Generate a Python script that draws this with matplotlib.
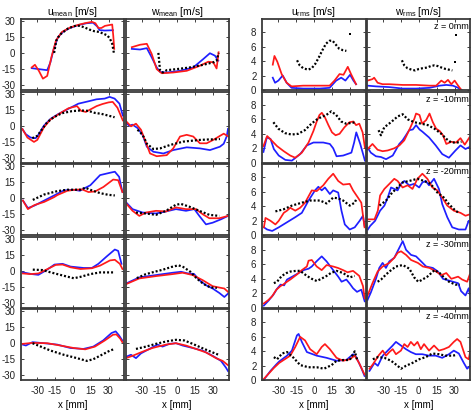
import numpy as np
import matplotlib
matplotlib.use('Agg')
import matplotlib.pyplot as plt

# Perfiles de velocidad: media y rms, u y w, a cinco alturas z
z_labels = ['z = 0mm', 'z = -10mm', 'z = -20mm', 'z = -30mm', 'z = -40mm']
col_titles = ['u$_{mean}$ [m/s]', 'w$_{mean}$ [m/s]', 'u$_{rms}$ [m/s]', 'w$_{rms}$ [m/s]']
mean_ticks = [-30, -15, 0, 15, 30]
rms_ticks = [0, 2, 4, 6, 8]
x_ticks = [-30, -15, 0, 15, 30]

# ---- u_mean ----
umean_z0_blue = [(-34.5, -14.4), (-28.5, -15.3), (-21.5, -16.3), (-18.8, -8.9), (-16, 3.8), (-12.4, 15), (-7.7, 20.4),
                 (-2.2, 23.6), (4.7, 26.3), (11.6, 28), (17, 28.5), (20.5, 25), (22.5, 21.5), (26.8, 21.1), (33.7, 21.4)]
umean_z0_red = [(-34.5, -13.7), (-31.8, -11.2), (-28.5, -16.9), (-25.1, -24.3), (-21.5, -21.7), (-18, -4.2), (-14.1, 11.8),
                (-9.1, 19.8), (-2.2, 24), (4.7, 26.5), (10, 28), (16, 29.3), (19, 28), (21.5, 23.5), (24, 23.5), (27, 25.5),
                (33.1, 26.8), (34, 16), (34.8, 3.8)]
umean_z0_black = [(-15.7, 0), (-13.8, 11.8), (-10.8, 17.3), (-7, 20.5), (-4, 23), (0, 24.8), (3, 25.8), (6, 25.5), (10, 24),
                  (14, 22), (18, 20.5), (22, 19.8), (26, 18), (29, 16.5), (31.2, 13.4), (33.1, 8.6), (34.5, 0)]

umean_z10_blue = [(-42.3, -3.2), (-39.5, -8), (-35.4, -11.2), (-31.2, -11.8), (-28.5, -8), (-24.3, 0), (-18.8, 6.4),
                  (-11.9, 11.2), (-3.6, 16), (4.7, 20.8), (13, 23), (19.9, 24.9), (26.8, 25.6), (30.9, 27.2), (35.1, 25.6),
                  (39.2, 20.8), (42, 9.6)]
umean_z10_red = [(-42.3, -3.2), (-38.1, -11.2), (-32.6, -15.3), (-29.8, -13.4), (-24.3, -1.6), (-18.8, 5.8), (-11.9, 10.9),
                 (-3.6, 16.5), (0, 17.5), (3.5, 18.5), (7, 14), (11, 13), (15, 15.5), (20, 18.5), (25, 20.5), (30, 22),
                 (33.5, 22.5), (37.5, 17), (42, 5)]
umean_z10_black = [(-34, -11.8), (-29.8, -9.6), (-25.7, -3.2), (-21.5, 3.2), (-16, 8), (-9.1, 11.8), (-0.8, 13.7),
                   (6.1, 14.4), (13, 14), (18.5, 12.1), (24, 11.2), (29.6, 9.6), (35.1, 8)]

umean_z20_blue = [(-41.9, -2.2), (-37.7, -9.3), (-32.3, -7), (-24, -2.2), (-15.7, 2.6), (-7.5, 7.4), (0.8, 8), (6, 7),
                  (9.1, 9), (14.7, 12.2), (22.9, 21.8), (31.2, 24), (35.3, 25), (38.9, 20.2), (41.7, 5.8)]
umean_z20_red = [(-41.9, -2.2), (-37.7, -10.3), (-32.3, -6.5), (-24, -3.5), (-15.7, 1), (-12.9, 3), (-4.6, 7), (2, 8),
                 (7.8, 8.3), (13.2, 5.8), (18.8, 6.4), (25.7, 10.6), (33.9, 17.6), (38.1, 17), (41.7, 5.8)]
umean_z20_black = [(-33.6, -1.6), (-24, 3.5), (-12.9, 6.7), (-4.6, 8), (6.4, 8), (10.5, 9.9), (16, 7.4), (22.9, 4.8),
                   (29.8, 3.2), (35.3, 2.6)]

umean_z30_blue = [(-41.9, -1.6), (-34.3, -3.2), (-28.9, -3.9), (-22.1, 0.6), (-15.4, 5.8), (-8.6, 6.5), (-1.9, 3.9),
                  (9.1, 2.6), (16, 2.6), (21.5, 6.5), (28.5, 13.5), (35.3, 20), (38.1, 18.7), (40.9, 6.5)]
umean_z30_red = [(-41.9, -2.6), (-35.8, -3.2), (-28.9, -2.6), (-21.2, 1.6), (-14.3, 5.5), (-8.6, 5.8), (-1.9, 3.2),
                 (6.4, 1.6), (16, 2.3), (22.9, 4.8), (31.2, 9.7), (35.3, 10.3), (39.5, 6.5), (41.7, 1.6)]
umean_z30_black = [(-33.6, 1), (-25.3, 0.6), (-18.5, -1.6), (-7.5, -4.8), (0.8, -7.1), (6.4, -5.8), (14.7, -3.2),
                   (22.9, -1.6), (35.3, -1.6)]

umean_z40_blue = [(-42.1, -1.3), (-39.4, -2.2), (-33.8, 1), (-24.2, 0), (-13.1, -1.3), (-2.1, -4.5), (8.9, -5.4),
                  (17.2, -3.2), (25.5, 2.6), (32.5, 9.6), (36, 11.2), (38.8, 7.4), (41.6, 2.6)]
umean_z40_red = [(-42.1, -0.6), (-33.8, 0.3), (-21.4, 0), (-10.4, -2.2), (0.7, -4.5), (10.4, -5.8), (18.6, -3.2),
                 (26.9, 2.6), (33.8, 8), (36.6, 8.3), (39.9, 4.2), (41.6, 1)]
umean_z40_black = [(-33.8, 0), (-26.9, -3.2), (-18.6, -7), (-7.6, -10.9), (3.5, -14.1), (11.8, -16.7), (17.2, -15.1),
                   (25.5, -10.3), (31.1, -7), (35.2, -5.4)]

# ---- w_mean ----
wmean_z0_blue = [(-38.2, 3.8), (-31.3, 3.2), (-25.6, 4.5), (-21.5, -4.2), (-17.3, -13.7), (-14.5, -17.9), (-8.9, -18.5),
                 (2.3, -16.9), (13.4, -13.7), (21.8, -5.8), (27.4, -0.3), (31.6, -2.6), (34.4, -7.3)]
wmean_z0_red = [(-38.2, 5.4), (-31.3, 7.7), (-25.6, 8.6), (-21.5, -1), (-17.3, -15.3), (-13.1, -19.2), (-3.4, -18.5),
                (7.9, -16.9), (19, -12.1), (26, -8.3), (30.2, -8.9), (33, -14.7), (34.7, 0.6)]
wmean_z0_black = [(-15.9, 0), (-14.5, -16.3), (-12.2, -18.5), (-8.9, -16.3), (-0.5, -15.3), (10.6, -13.7), (21.8, -11.2),
                  (30.2, -8.9), (33, -7.3), (34.7, 0)]

wmean_z10_blue = [(-43, 2.6), (-40.3, 0), (-37.6, 1), (-33.4, -2.2), (-29, -9), (-25.6, -19.8), (-20.1, -24.6),
                  (-11.7, -26.2), (-3.4, -23), (7.9, -20.4), (19, -21.4), (27.4, -23), (35.8, -19.8), (39, -17),
                  (41.5, -10), (42.6, -3)]
wmean_z10_red = [(-43, 4.2), (-38.9, -0.6), (-34.7, 1.9), (-30.5, -3.8), (-27, -14), (-22.9, -26.2), (-17.3, -28.8),
                 (-8.9, -27.8), (-3.4, -21.4), (2.3, -10.2), (7.9, -8.6), (13.4, -10.2), (19, -16.6), (24.6, -16.6),
                 (30.2, -13.4), (35.8, -9.6), (39, -7.5), (42.6, -10)]
wmean_z10_black = [(-33.4, -3.8), (-30.5, -7), (-28, -11), (-25.6, -17), (-20.1, -22), (-14.5, -21.4), (-6.1, -18.2),
                   (5, -15), (19, -13.4), (26, -13), (33, -12.8), (35.8, -12.5)]

wmean_z20_blue = [(-43.1, -3.8), (-37.6, -10.3), (-29.2, -13.5), (-17.9, -14.4), (-9.5, -12.5), (-1.1, -10.3),
                  (7.3, -11.9), (14.3, -10.3), (18.5, -16.7), (24.1, -24.7), (29.7, -23.1), (36.7, -19.9), (42.6, -16.7)]
wmean_z20_red = [(-43.1, -4.8), (-37.6, -11.9), (-31.9, -16.7), (-26.3, -13.5), (-17.9, -11.9), (-9.5, -12.5),
                 (-1.1, -8.7), (7.3, -10.3), (15.7, -10.3), (21.3, -15.1), (26.9, -18.9), (35.3, -18.9), (42.6, -16.7)]
wmean_z20_black = [(-34.7, -13.5), (-26.3, -14.4), (-17.9, -15.7), (-9.5, -11.9), (-1.1, -6.1), (3.1, -5.4), (10.1, -8),
                   (18.5, -11.9), (26.9, -15.7), (35.3, -16.7)]

wmean_z30_blue = [(-43.1, -12.1), (-31.9, -6.3), (-17.9, -4.1), (-3.9, -1.9), (3.1, -1), (8.7, -2.5), (14, -3),
                  (18.5, -8.9), (24.1, -13.7), (29.7, -16.8), (35.3, -21), (39.5, -24.8), (42.6, -21.6)]
wmean_z30_red = [(-43.1, -12.7), (-31.9, -7.3), (-17.9, -5.1), (-3.9, -3.2), (4.5, -1.9), (12.9, -4.1), (21.3, -8.9),
                 (29.7, -14.6), (35.3, -15.9), (39.5, -16.8), (42.6, -20)]
wmean_z30_black = [(-34, -7), (-27, -3.5), (-20, -1.3), (-12, 1), (-5, 3.5), (1, 5.1), (5, 3.5), (11, -1), (16.5, -7.5),
                   (22, -12.5), (27.7, -15.7), (33.2, -16.3)]

wmean_z40_blue = [(-43.1, -12.8), (-38.9, -10.9), (-34.7, -14.1), (-30.5, -9.6), (-23.5, -5.4), (-16.6, -1.3),
                  (-12.4, -3.2), (-6.7, -0.6), (-1.1, 0), (4.5, -2.2), (12.9, -4.5), (21.3, -7), (29.7, -11.9),
                  (36.7, -16.7), (40.9, -23.1), (42.6, -26.3)]
wmean_z40_red = [(-43.1, -14.1), (-37.6, -11.9), (-29.2, -8), (-20.8, -4.5), (-9.5, -1.3), (-1.1, 0), (7.3, -2.2),
                 (15.7, -5.4), (24.1, -8.7), (32.5, -14.1), (38.1, -16.7), (42.6, -20.8)]
wmean_z40_black = [(-34.7, -5.4), (-26.3, -3.2), (-17.9, -0.6), (-9.5, 1.6), (-1.1, 3.2), (5.9, 2.6), (12.9, -0.6),
                   (21.3, -4.8), (29.7, -8.7), (35.3, -11.2)]

# ---- u_rms ----
urms_z0_blue = [(-34.5, 1.7), (-32.6, 1), (-29.8, 1.3), (-26.2, 2), (-22.9, 1), (-18.8, 0.3), (-9.1, 0.2), (4.7, 0.2),
                (13, 0.3), (18.5, 1.3), (22.7, 1.7), (26.2, 1.3), (30.1, 2.1), (32.9, 1.3), (35.1, 0.8)]
urms_z0_red = [(-34.5, 3.5), (-33.1, 4.7), (-30.7, 3.9), (-27.1, 2.2), (-22.9, 1), (-18.8, 0.5), (-9.1, 0.6), (1.9, 0.6),
               (13, 0.6), (17.1, 1.3), (21.3, 2.2), (24.6, 2.1), (28.2, 3.2), (30.9, 2.2), (35.1, 0.8)]
urms_z0_black = [(-14.2, 4.1), (-12, 3.4), (-9, 3), (-5, 2.8), (-2, 3), (1, 3.6), (4, 4.5), (7, 5.5), (10, 6.4), (13, 6.8),
                 (15.5, 6.8), (18.5, 6.2), (21, 5.7), (24, 5.5), (27, 5.4)]
urms_z0_extra = [(29.8, 7.7)]

urms_z10_blue = [(-42.3, 1.5), (-39.5, 3.5), (-36.4, 3.3), (-33.6, 1.9), (-29.5, 1), (-24, 0.4), (-18.5, 0.3),
                 (-11.6, 1.2), (-6, 2.4), (-0.5, 2.8), (7.7, 2.8), (13.2, 2.6), (16, 2), (18.8, 0.9), (24.3, 1), (31.2, 1.4),
                 (33.5, 2.8), (35.3, 4.2), (38.6, 2.6), (41, 1.2), (42.5, 0.3)]
urms_z10_red = [(-42.3, 2.3), (-39.2, 3.7), (-35, 3), (-30.9, 2.3), (-25.3, 1.6), (-19.9, 1), (-15.7, 0.7), (-10.2, 1.4),
                (-4.6, 2.8), (-0.5, 4.4), (2, 5.6), (4.5, 6.6), (6.5, 6.9), (9, 6.3), (12, 5.2), (15, 4.2), (18, 3.8),
                (21.3, 4), (25.4, 4.9), (29.6, 5.6), (32.9, 5.7), (35.1, 5.2), (37.8, 5.4), (40.6, 4.2), (42.5, 2.1)]
urms_z10_black = [(-34, 5.6), (-29.8, 4.7), (-24.3, 4.1), (-18.8, 3.9), (-13.3, 4), (-7.7, 4.5), (-2.2, 5.4), (3.3, 6.1),
                  (10.2, 6.6), (14.4, 7.1), (18.5, 6.6), (22.7, 5.7), (26.8, 5.4), (30.9, 5.5), (35.1, 5.6)]

urms_z20_blue = [(-41.9, 1.1), (-39.2, 0.8), (-35, 0.6), (-29.5, 1.1), (-22.6, 1.8), (-15.7, 2.5), (-10.2, 3.1),
                 (-4.6, 4.8), (0.8, 6.2), (3.6, 6.7), (6.4, 6.2), (9.1, 6.6), (13.2, 5.7), (16, 6.2), (20.2, 5.9),
                 (22.9, 3.4), (25.7, 1.5), (29.8, 0.8), (34, 1.1), (38.1, 2), (40.9, 2.7), (42.2, 1.3)]
urms_z20_red = [(-41.9, 1.1), (-40.6, 2.4), (-36.4, 2), (-32.3, 1.5), (-29.5, 2), (-25.3, 3.1), (-22.6, 3.4), (-19.9, 3.8),
                (-15.7, 3.4), (-11.6, 3.8), (-7.5, 4.5), (-1.9, 6.2), (2.2, 6.1), (7.7, 6.9), (11.9, 7.8), (16, 8.5),
                (20.2, 7.5), (24.3, 7), (29.8, 7.1), (32.6, 6.2), (36.7, 5.2), (39.5, 4.5), (42.2, 1.1)]
urms_z20_black = [(-32.3, 3.3), (-25.3, 3.6), (-18.5, 4.1), (-10.2, 4.5), (-3.3, 4.8), (5, 4.8), (10.5, 4.4), (16, 5.2),
                  (20.2, 5.1), (24.3, 4.8), (29.8, 4.1), (34, 4.5), (35.3, 5)]

urms_z30_blue = [(-42, 0.3), (-38, 1), (-34, 1.8), (-31, 2.6), (-28, 3.2), (-25, 3.1), (-22.6, 3.9), (-17.1, 4.4),
                 (-12.9, 4.8), (-8.8, 5.2), (-4.5, 5.4), (-1.9, 5.7), (2, 6.4), (6.4, 7.1), (10.5, 6.4), (16, 5.2),
                 (20.2, 4.3), (23, 3.6), (27, 3.9), (30, 3.3), (32.6, 2.7), (35.9, 2.2), (39.5, 2.5), (42.3, 0.9)]
urms_z30_red = [(-42, 0.6), (-38, 1.1), (-35, 1.6), (-31.5, 2.5), (-28, 3), (-25.9, 3.2), (-22.6, 3.6), (-19.9, 3.9),
                (-14.3, 4.6), (-10.2, 5.2), (-6, 5.7), (-4.6, 6.5), (-1.9, 6.6), (2.2, 5.7), (6.4, 5.2), (10.5, 5.9),
                (16, 5.7), (20, 5.5), (24.3, 5.2), (28, 4.9), (32.6, 5.1), (37.8, 4.4), (40.9, 3), (42.3, 1.3)]
urms_z30_black = [(-33.6, 3.4), (-30.9, 3.6), (-27, 4.4), (-23, 4.8), (-19.9, 5), (-15, 5.1), (-11.6, 5.1), (-6, 4.4),
                  (-1.9, 4), (2.2, 3.7), (6, 4), (10.5, 4.4), (14, 4.8), (18.8, 5.1), (24.3, 4.8), (29.8, 4.2), (34, 4.4)]

urms_z40_blue = [(-41.9, 0.1), (-36.4, 1.3), (-31.5, 2.2), (-29.1, 2.6), (-22.6, 3.4), (-18.5, 4.1), (-14.3, 6.2),
                 (-12.9, 6.4), (-10.2, 5.3), (-6, 3.9), (2.2, 3.4), (10.5, 3.1), (18.8, 2.7), (27, 2.8), (32.6, 3.6),
                 (35.3, 3.2), (39.5, 1.7), (42.2, 0.6)]
urms_z40_red = [(-41.9, 0.2), (-33.6, 1.7), (-29.1, 2.4), (-19.9, 3.4), (-15.7, 4.6), (-11.6, 6), (-7.5, 5.5),
                (-3.3, 4.3), (2.2, 3.6), (6.4, 4.6), (9.1, 5), (13.2, 4.3), (18.8, 3.1), (24.3, 2.7), (29.8, 2.9),
                (34, 3.4), (37.6, 2.4), (42.2, 0.8)]
urms_z40_black = [(-33.6, 3.2), (-30.9, 2.9), (-26.7, 3.7), (-22.6, 3.9), (-17.1, 3.1), (-11.6, 2.1), (-4.6, 1.8),
                  (2.2, 1.8), (8.3, 1.6), (14.7, 2.1), (18.8, 2.7), (24.3, 2.8), (29.8, 2.8), (34, 4), (35.9, 2.9)]

# ---- w_rms ----
wrms_z0_blue = [(-43, 0.6), (-36, 0.5), (-24.8, 0.4), (-13.5, 0.2), (-2.3, 0.2), (9, 0.3), (17.5, 0.6), (23.1, 0.7),
                (28.7, 0.6), (33, 0.3), (35.8, 0)]
wrms_z0_red = [(-43, 1.3), (-38.9, 1.5), (-37.5, 1.7), (-34.6, 1), (-30.4, 0.8), (-24.8, 0.8), (-13.5, 0.7), (-2.3, 0.7),
               (9, 0.6), (14.6, 0.6), (18.9, 1.3), (21.7, 1), (24.5, 1.4), (27.3, 0.8), (30.1, 1.3), (33, 0.6), (35.8, 0)]
wrms_z0_black = [(-14.2, 4.1), (-12.2, 3.4), (-9.5, 3), (-6, 2.8), (-3, 2.7), (0, 2.9), (3, 3), (7, 3.1), (10, 3.3),
                 (13, 3.4), (16, 3.3), (19, 3.1), (22.5, 2.9), (25.5, 2.8), (28.2, 2.7)]
wrms_z0_extra = [(30, 3.8), (31.5, 7.6)]

wrms_z10_blue = [(-43, 2.1), (-40.3, 1.4), (-36, 0.9), (-31.8, 0.8), (-27.5, 0.5), (-21.9, 1), (-16.4, 2.6), (-13.6, 3.1),
                 (-10.8, 3.8), (-8.1, 4.5), (-5, 4.6), (-2.3, 5.2), (0.6, 4.6), (3, 4.3), (8.6, 3.5), (14.2, 2.4),
                 (19.7, 1.2), (25.3, 0.7), (30.8, 1.7), (35, 2.4), (39.2, 1.9), (42.8, 2.2)]
wrms_z10_red = [(-43, 1.9), (-38.9, 2.6), (-34.6, 1.8), (-30.4, 1.6), (-26.2, 1.7), (-20.6, 2), (-16.3, 2.4),
                (-12.2, 3.1), (-8.1, 4.5), (-3.7, 6.1), (-2.3, 6.8), (0.6, 6.6), (2.8, 5.4), (6.2, 5.9), (9, 6.8),
                (11.8, 5.6), (14.6, 4.7), (17.5, 4.4), (20.3, 3.8), (23.1, 2.6), (27.3, 2.9), (31.3, 2.8), (35, 3.4),
                (38.6, 2.5), (42.5, 3.5)]
wrms_z10_black = [(-33.8, 4.5), (-31.8, 3.8), (-29, 4.9), (-23.4, 5.6), (-17.7, 6.4), (-13.5, 6.7), (-9.3, 6), (-3.7, 5.6),
                  (2, 5.4), (7.6, 5.2), (13.2, 4.7), (18.9, 4), (23.1, 3.3), (27.3, 2.8), (32.1, 2.8), (35.8, 2.9)]

wrms_z20_blue = [(-42.8, 0.8), (-40.8, 1.3), (-36.7, 2), (-32.5, 3.4), (-28.9, 4.1), (-26.1, 5.2), (-23.3, 6.6),
                 (-20.6, 6.4), (-17.8, 6.2), (-15, 7.1), (-12.2, 7.5), (-8.1, 6.9), (-3.9, 7.1), (0.3, 6.6), (3, 7.3),
                 (5.8, 7.5), (8.6, 6.9), (12.8, 7.8), (16.9, 6.4), (19.7, 4.3), (23.9, 2.5), (28.1, 1.1), (33.6, 0.8),
                 (39.2, 0.8), (41.9, 2), (43, 1.8)]
wrms_z20_red = [(-42.8, 2.2), (-37.2, 2.2), (-34.4, 3.4), (-32.5, 5.5), (-28.9, 6.4), (-24.7, 7.1), (-20.6, 7.8),
                (-17.8, 7.5), (-13.6, 6.6), (-9.4, 6.9), (-5.3, 6.4), (-1.1, 7.8), (3, 8.5), (7.2, 7.8), (11.4, 6.6),
                (15.6, 6.2), (19.7, 5.2), (23.9, 4.1), (29.4, 3.4), (35, 3.1), (39.2, 2.7), (43, 2.9)]
wrms_z20_black = [(-33, 4.1), (-27.5, 4.8), (-23.3, 5.7), (-19.2, 6.4), (-13.6, 7.3), (-8.1, 7.5), (-1.1, 7.8), (4.4, 7.5),
                  (10, 7.1), (15.6, 5.9), (21.1, 5.2), (25.3, 4.3), (30.8, 3.4), (33.6, 3.1)]

wrms_z30_blue = [(-43, 1.1), (-40.3, 2.1), (-36, 4), (-33.2, 5.5), (-30.4, 6.2), (-27.6, 5.5), (-24.8, 6.4), (-20.6, 6.9),
                 (-16.3, 8.3), (-13.5, 9.2), (-10.7, 8), (-6.5, 7.3), (-2.3, 7.1), (2, 6.4), (6.2, 5.7), (11.8, 5.5),
                 (16.1, 5), (20.3, 4), (24.5, 3.8), (28.7, 3.6), (33, 3.4), (35.5, 2.3), (39.2, 1.7), (41.9, 2.7),
                 (42.8, 1.9)]
wrms_z30_red = [(-43, 1.7), (-38.9, 3.4), (-34.6, 5), (-30.4, 5.7), (-24.8, 6.2), (-20.6, 6.9), (-17.7, 7.6),
                (-14.9, 7.8), (-10.7, 7.3), (-6.5, 6.6), (-0.8, 6.2), (3.4, 5.7), (9, 5.5), (14.6, 5), (18.9, 4.5),
                (23.1, 4.8), (27.3, 4), (33, 4.3), (36.4, 3.9), (40.6, 3.6), (42.8, 4.6)]
wrms_z30_black = [(-34.6, 3.6), (-31.7, 3.9), (-27.5, 4.6), (-24.8, 5), (-19.2, 5.7), (-13.5, 5.9), (-7.9, 5.4),
                  (-3.9, 4.2), (-0.5, 3.6), (2, 3.8), (7.2, 4.3), (13.2, 5.2), (17.5, 4.8), (20.5, 4.3), (25.3, 3.6),
                  (30.8, 3.2), (34.5, 3.2)]

wrms_z40_blue = [(-41.4, 1.3), (-37.2, 2.4), (-34.4, 2), (-30.3, 3.4), (-26.1, 4.1), (-21.9, 4.8), (-19.2, 5.3),
                 (-15, 4.8), (-10.8, 4.3), (-6.7, 3.9), (-2.5, 3.6), (3, 3.6), (8.6, 3.4), (14.2, 3.4), (19.7, 3.1),
                 (25.3, 3.6), (29.4, 4.1), (33.6, 3.7), (37.8, 2.4), (40.6, 1.6), (43.3, 2)]
wrms_z40_red = [(-41.4, 1.6), (-38.6, 2.2), (-35.8, 2.9), (-33.9, 3.4), (-30.3, 4.1), (-27.5, 3.4), (-24.7, 3.9),
                (-21.9, 4.3), (-19.2, 3.6), (-15, 4.1), (-12.2, 5), (-9.4, 4.6), (-6.7, 5.3), (-3.9, 4.8), (-1.1, 5.3),
                (1.7, 4.3), (4.4, 5), (8.6, 4.1), (12.8, 4.8), (16.9, 4.1), (21.1, 4.3), (25.3, 4.6), (29.4, 5.3),
                (32.2, 5.7), (35, 5.3), (39.2, 3.2), (41.9, 2.9), (43.3, 4.1)]
wrms_z40_black = [(-38.6, 2.9), (-34.4, 3.2), (-28.9, 3.1), (-23.3, 2.7), (-17.8, 2), (-15, 1.6), (-10.8, 2),
                  (-5.3, 2.4), (0.3, 2.9), (5.8, 3.2), (11.4, 3.7), (16.9, 3.6), (22.5, 3.4), (28.1, 3.4), (32.2, 3.5)]

columns = [
    [(umean_z0_blue, umean_z0_red, umean_z0_black), (umean_z10_blue, umean_z10_red, umean_z10_black),
     (umean_z20_blue, umean_z20_red, umean_z20_black), (umean_z30_blue, umean_z30_red, umean_z30_black),
     (umean_z40_blue, umean_z40_red, umean_z40_black)],
    [(wmean_z0_blue, wmean_z0_red, wmean_z0_black), (wmean_z10_blue, wmean_z10_red, wmean_z10_black),
     (wmean_z20_blue, wmean_z20_red, wmean_z20_black), (wmean_z30_blue, wmean_z30_red, wmean_z30_black),
     (wmean_z40_blue, wmean_z40_red, wmean_z40_black)],
    [(urms_z0_blue, urms_z0_red, urms_z0_black), (urms_z10_blue, urms_z10_red, urms_z10_black),
     (urms_z20_blue, urms_z20_red, urms_z20_black), (urms_z30_blue, urms_z30_red, urms_z30_black),
     (urms_z40_blue, urms_z40_red, urms_z40_black)],
    [(wrms_z0_blue, wrms_z0_red, wrms_z0_black), (wrms_z10_blue, wrms_z10_red, wrms_z10_black),
     (wrms_z20_blue, wrms_z20_red, wrms_z20_black), (wrms_z30_blue, wrms_z30_red, wrms_z30_black),
     (wrms_z40_blue, wrms_z40_red, wrms_z40_black)],
]
extras = {(2, 0): urms_z0_extra, (3, 0): wrms_z0_extra}

plt.rcParams['font.family'] = ['Liberation Sans', 'DejaVu Sans']
plt.rcParams['mathtext.default'] = 'regular'
plt.rcParams['axes.unicode_minus'] = False

W, H = 472, 412
fig = plt.figure(figsize=(W / 100, H / 100), dpi=100)

# posiciones en pixeles (izquierda, ancho) y filas (arriba)
col_px = [(21, 103), (125.5, 103), (262, 103.5), (367, 103)]
row_top = [19, 91.8, 164.3, 236.8, 309.3]
row_h = 71


def xy(pts):
    arr = np.array(pts, dtype=float)
    return arr[:, 0], arr[:, 1]


for c in range(4):
    for r in range(5):
        left, width = col_px[c]
        ax = fig.add_axes([left / W, 1 - (row_top[r] + row_h) / H, width / W, row_h / H])
        blue, red, black = columns[c][r]
        x, y = xy(blue)
        ax.plot(x, y, color='#1f1fff', lw=1.25)
        x, y = xy(red)
        ax.plot(x, y, color='#ff1a1a', lw=1.25)
        x, y = xy(black)
        ax.plot(x, y, color='black', lw=1.6, linestyle=(0, (0.9, 0.9)), dash_capstyle='butt')
        if (c, r) in extras:
            x, y = xy(extras[(c, r)])
            ax.plot(x, y, 's', color='black', ms=1.6, mew=0)

        ax.set_xlim(-43.5, 43)
        ax.set_xticks(x_ticks)
        if c < 2:
            ax.set_ylim(-35, 32)
            ax.set_yticks(mean_ticks)
        else:
            ax.set_ylim(0, 9.8)
            ax.set_yticks(rms_ticks)
        ax.tick_params(direction='in', top=True, right=True, length=2.5, width=0.6,
                       labelsize=7, pad=4, colors='#222222')
        if c not in (0, 2):
            ax.set_yticklabels([])
        if r < 4:
            ax.set_xticklabels([])
        else:
            ax.set_xlabel('x [mm]', fontsize=7, labelpad=3)
        for s in ax.spines.values():
            s.set_color('#3a3a3a')
            s.set_linewidth(1.3)
        if c == 3:
            ax.text(0.985, 0.96, z_labels[r], transform=ax.transAxes, ha='right', va='top', fontsize=6.5)
        if r == 0:
            ax.set_title(col_titles[c], fontsize=7.5, pad=3)

plt.savefig('out.png', dpi=100)
